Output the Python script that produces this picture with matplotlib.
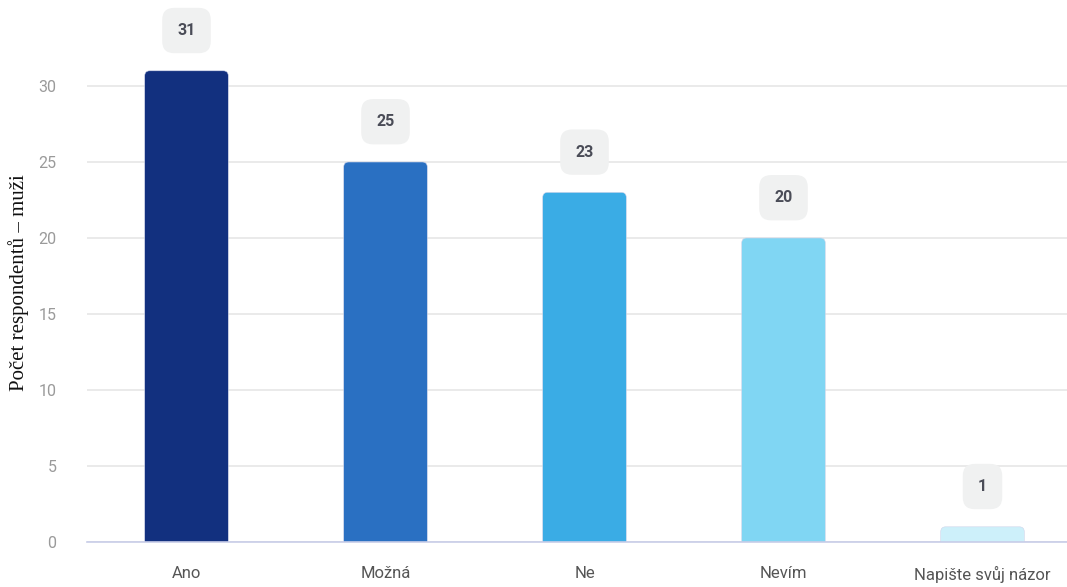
import matplotlib

matplotlib.use("Agg")
import matplotlib.pyplot as plt
from matplotlib.patches import FancyBboxPatch

categories = ["Ano", "Možná", "Ne", "Nevím", "Napište svůj názor"]
values = [31, 25, 23, 20, 1]
bar_colors = ["#12307f", "#2a70c2", "#3aace5", "#80d6f3", "#cdf0fa"]
y_ticks = [0, 5, 10, 15, 20, 25, 30]

plt.rcParams["font.family"] = ["Roboto", "DejaVu Sans"]

W, H = 1067, 587
fig = plt.figure(figsize=(W / 100, H / 100), dpi=100)
# axes from x=87px to right edge, baseline at y=542px, top at y=0
ax = fig.add_axes([87 / W, (H - 542) / H, (W - 87) / W, 542 / H])

px_per_cat = 199.0
ax.set_xlim(-0.5, (W - 87) / px_per_cat - 0.5)
ax.set_ylim(0, 542 / 15.2)

bars = ax.bar(range(len(values)), values, width=0.42, color=bar_colors)
# replace plain bars with rounded-top ones
aspect = (1 / 15.2) / (1 / px_per_cat)
for rect, c in zip(bars, bar_colors):
    rect.set_visible(False)
    x, y = rect.get_x(), rect.get_y()
    w, h = rect.get_width(), rect.get_height()
    r = 0.025
    patch = FancyBboxPatch(
        (x, y - 0.5), w, h + 0.5,
        boxstyle=f"round,pad=0,rounding_size={r}",
        mutation_aspect=aspect,
        facecolor=c, edgecolor="#d0d5ea", linewidth=0.4, zorder=3,
    )
    ax.add_patch(patch)

for i, v in enumerate(values):
    ax.annotate(
        str(v), (i, v), xytext=(0, 29), textcoords="offset points",
        ha="center", va="center", fontsize=11.5, fontweight="bold", color="#4a4c57",
        bbox=dict(boxstyle="round,pad=0.95,rounding_size=0.75", facecolor="#f0f1f1", edgecolor="none"),
        annotation_clip=False, zorder=4,
    )

ax.set_yticks(y_ticks)
ax.set_yticklabels([str(t) for t in y_ticks], color="#9a9a9a", fontsize=11.5)
ax.set_xticks(range(len(categories)))
ax.set_xticklabels(categories, color="#555555", fontsize=12)
ax.tick_params(axis="both", length=0)
ax.tick_params(axis="y", pad=22)
ax.tick_params(axis="x", pad=17)

ax.grid(axis="y", color="#e6e6e6", linewidth=1.2, zorder=0)
ax.set_axisbelow(True)
for s in ["top", "right", "left"]:
    ax.spines[s].set_visible(False)
ax.spines["bottom"].set_color("#c8cde8")
ax.spines["bottom"].set_linewidth(1.2)
ax.spines["bottom"].set_zorder(5)

fig.text(19 / W, 1 - 283 / H, "Počet respondentů – muži", rotation=90,
         ha="center", va="center", fontsize=15, color="#111111",
         family=["Liberation Serif", "DejaVu Serif"])

fig.savefig("out.png", dpi=100, facecolor="white")
